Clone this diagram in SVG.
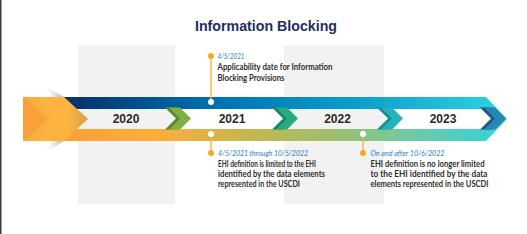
<svg xmlns="http://www.w3.org/2000/svg" width="527" height="234" viewBox="0 0 527 234">
  <defs>
    <linearGradient id="gTop" gradientUnits="userSpaceOnUse" x1="60" y1="0" x2="507" y2="0">
      <stop offset="0" stop-color="#0a2c62"/>
      <stop offset="0.2" stop-color="#005596"/>
      <stop offset="0.4" stop-color="#0079b8"/>
      <stop offset="0.65" stop-color="#0a9ccb"/>
      <stop offset="1" stop-color="#2fd3e0"/>
    </linearGradient>
    <linearGradient id="gBot" gradientUnits="userSpaceOnUse" x1="23" y1="0" x2="507" y2="0">
      <stop offset="0" stop-color="#f79a35"/>
      <stop offset="0.28" stop-color="#fbae3c"/>
      <stop offset="0.45" stop-color="#c9b64d"/>
      <stop offset="0.62" stop-color="#a3bd69"/>
      <stop offset="0.8" stop-color="#6fcaa3"/>
      <stop offset="1" stop-color="#33d1de"/>
    </linearGradient>
    <linearGradient id="gArrow" gradientUnits="userSpaceOnUse" x1="23" y1="0" x2="88" y2="0">
      <stop offset="0" stop-color="#fbab3c"/>
      <stop offset="0.7" stop-color="#fdb440"/>
      <stop offset="1" stop-color="#d59e45"/>
    </linearGradient>
    <linearGradient id="gShadow" gradientUnits="userSpaceOnUse" x1="42" y1="0" x2="64" y2="0">
      <stop offset="0" stop-color="#ffffff" stop-opacity="0"/>
      <stop offset="1" stop-color="#9a9a9a" stop-opacity="0.8"/>
    </linearGradient>
    <polygon id="chev" points="0,0 11,0 22,11 11,22 0,22 11,11"/>
    <style>
      .col{fill:#f2f2f2}
      .year{font-family:"Liberation Sans",Arial,sans-serif;font-weight:700;font-size:12px;fill:#2b2b2b;text-anchor:middle}
      .date{font-family:Lato,"Liberation Sans",sans-serif;font-style:italic;font-size:8.5px;fill:#2f7db8}
      .desc{font-family:Lato,"Liberation Sans",sans-serif;font-weight:700;font-size:8.5px;fill:#2e2e2e}
      .lead{stroke:#f9b233;stroke-width:1.4;fill:none}
      .odot{fill:#f9a825}
      .wdot{fill:#ffffff}
    </style>
  </defs>

  <rect x="0" y="0" width="1.5" height="234" fill="#3a3a3a"/>

  <g id="title">
    <text x="266" y="30.5" text-anchor="middle" font-family="'Liberation Sans',Arial,sans-serif" font-weight="700" font-size="15.5" fill="#1e2f5e" textLength="142" lengthAdjust="spacingAndGlyphs">Information Blocking</text>
  </g>

  <g id="columns">
    <rect class="col" x="78" y="45" width="97" height="159"/>
    <rect class="col" x="284" y="45" width="100" height="159"/>
  </g>

  <g id="timeline">
    <polygon points="58,97 486,97 507,119 495,119 485,109 58,109" fill="url(#gTop)"/>
    <polygon points="23,129 485,129 495,119 507,119 486,141 23,141" fill="url(#gBot)"/>
    <polygon points="44,85 64,97 52,97" fill="url(#gShadow)"/>
    <polygon points="52,141 64,141 44,153" fill="url(#gShadow)"/>
    <polygon points="23,97 64,97 88,119 64,141 23,141" fill="url(#gArrow)"/>
    <polygon points="23,97 48,119 23,141" fill="#f9a039"/>
    <polygon points="36,97 46,97 68,119 46,141 36,141 58,119" fill="#fdb744" opacity="0.7"/>
    <g id="chevrons">
      <use href="#chev" x="165" y="107.5" fill="#5a8a2e"/>
      <use href="#chev" x="169" y="107.5" fill="#7fb140"/>
      <use href="#chev" x="272" y="107.5" fill="#158c68"/>
      <use href="#chev" x="276" y="107.5" fill="#26ab84"/>
      <use href="#chev" x="377" y="107.5" fill="#168e9d"/>
      <use href="#chev" x="381" y="107.5" fill="#24b2bc"/>
      <use href="#chev" x="480" y="107.5" fill="#175a85"/>
      <use href="#chev" x="484" y="107.5" fill="#2886b2"/>
    </g>
  </g>

  <g id="years">
    <g id="y2020"><text class="year" x="126" y="123.3">2020</text></g>
    <g id="y2021"><text class="year" x="232" y="123.3">2021</text></g>
    <g id="y2022"><text class="year" x="337.5" y="123.3">2022</text></g>
    <g id="y2023"><text class="year" x="443" y="123.3">2023</text></g>
  </g>

  <g id="connectors">
    <line class="lead" x1="211" y1="56" x2="211" y2="102"/>
    <line class="lead" x1="211" y1="134" x2="211" y2="153"/>
    <line class="lead" x1="363" y1="134" x2="363" y2="153"/>
  </g>

  <g id="event-applicability">
    <circle class="wdot" cx="211" cy="102" r="3"/>
    <circle class="odot" cx="211" cy="56" r="3"/>
    <text class="date" x="217.5" y="59" textLength="27" lengthAdjust="spacingAndGlyphs">4/5/2021</text>
    <text class="desc" x="217.5" y="70" textLength="115" lengthAdjust="spacingAndGlyphs">Applicability date for Information</text>
    <text class="desc" x="217.5" y="81" textLength="67" lengthAdjust="spacingAndGlyphs">Blocking Provisions</text>
  </g>

  <g id="event-limited">
    <circle class="wdot" cx="211" cy="134" r="3"/>
    <circle class="odot" cx="211" cy="153" r="3"/>
    <text class="date" x="218" y="156" textLength="90" lengthAdjust="spacingAndGlyphs">4/5/2021 through 10/5/2022</text>
    <text class="desc" x="218" y="167" textLength="98" lengthAdjust="spacingAndGlyphs">EHI definition is limited to the EHI</text>
    <text class="desc" x="218" y="177" textLength="107" lengthAdjust="spacingAndGlyphs">identified by the data elements</text>
    <text class="desc" x="218" y="187" textLength="82" lengthAdjust="spacingAndGlyphs">represented in the USCDI</text>
  </g>

  <g id="event-no-longer">
    <circle class="wdot" cx="363" cy="134" r="3"/>
    <circle class="odot" cx="363" cy="153" r="3"/>
    <text class="date" x="370.5" y="156" textLength="74" lengthAdjust="spacingAndGlyphs">On and after 10/6/2022</text>
    <text class="desc" x="370.5" y="167" textLength="114" lengthAdjust="spacingAndGlyphs">EHI definition is no longer limited</text>
    <text class="desc" x="370.5" y="177" textLength="117" lengthAdjust="spacingAndGlyphs">to the EHI identified by the data</text>
    <text class="desc" x="370.5" y="187" textLength="118" lengthAdjust="spacingAndGlyphs">elements represented in the USCDI</text>
  </g>
</svg>
